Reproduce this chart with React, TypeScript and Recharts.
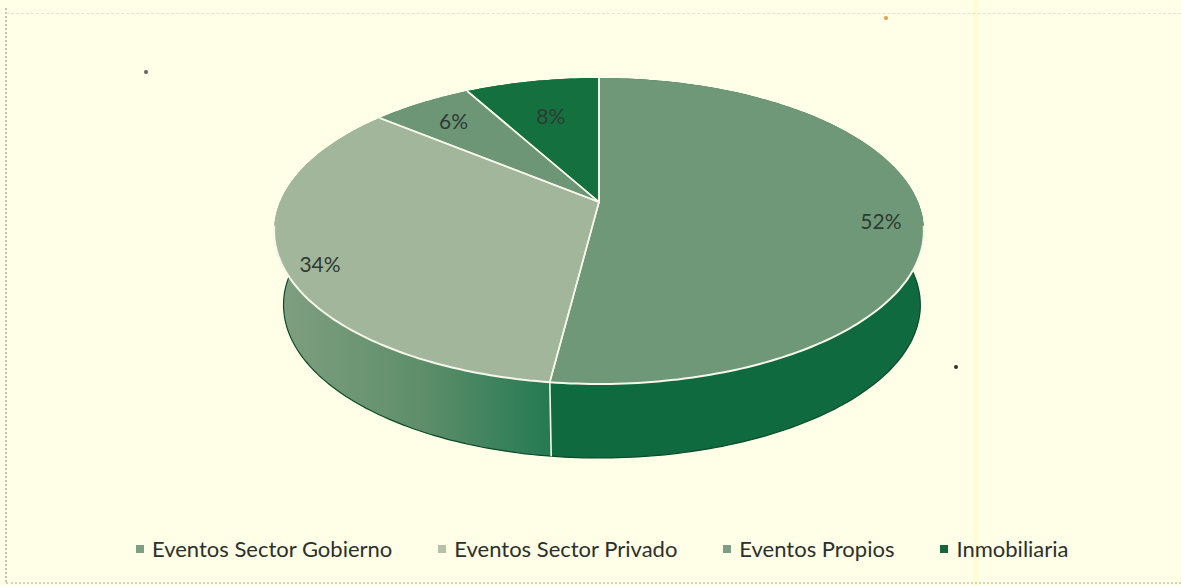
import React from "react";
import { PieChart, Pie, Legend } from "recharts";

const categories = ["Eventos Sector Gobierno", "Eventos Sector Privado", "Eventos Propios", "Inmobiliaria"];
const shares = [52, 34, 6, 8];
const topColors = ["#6f9878", "#a2b69b", "#6c9676", "#14713f"];
const wallColors = ["#0f6a40", "url(#wallGrad)", "#5a8a68", "#0f6a40"];
const legendColors = ["#7c9f84", "#b3c2a8", "#7f9c84", "#14643c"];

const topData = categories.map((name, i) => ({ name, value: shares[i], fill: topColors[i] }));
const wallData = categories.map((name, i) => ({ name, value: shares[i], fill: wallColors[i] }));

// the reference is a tilted 3D pie: the hub sits above the middle of the ellipse
const TILT = -0.1895;
const SQUASH = 0.4624;
const WALL_LEFT = 0.971;
const WALL_RIGHT = 0.989;
const WALL_DROP = 74;
const RAD = Math.PI / 180;

function project(cx: number, cy: number, r: number, deg: number) {
  const x = Math.cos(deg * RAD);
  const y = -Math.sin(deg * RAD);
  const w = 1 + TILT * y;
  return [cx + (r * x) / w, cy + (r * SQUASH * y) / w];
}

function lowerPoint(cx: number, p: number[]) {
  return [cx + (p[0] - cx) * (p[0] < cx ? WALL_LEFT : WALL_RIGHT), p[1] + WALL_DROP];
}

function arcPoints(cx: number, cy: number, r: number, from: number, to: number) {
  const pts: number[][] = [];
  const steps = Math.max(2, Math.ceil(Math.abs(to - from)));
  for (let i = 0; i <= steps; i++) {
    pts.push(project(cx, cy, r, from + ((to - from) * i) / steps));
  }
  return pts;
}

const toPath = (pts: number[][]) =>
  pts.map((p, i) => `${i === 0 ? "M" : "L"}${p[0].toFixed(1)},${p[1].toFixed(1)}`).join(" ");

function TopShape(props: any) {
  const { cx, cy, outerRadius, startAngle, endAngle, fill } = props;
  const d = `M${cx},${cy} ` + toPath(arcPoints(cx, cy, outerRadius, startAngle, endAngle)).replace("M", "L") + " Z";
  return <path d={d} fill={fill} stroke="none" />;
}

function WallShape(props: any) {
  const { cx, cy, outerRadius, startAngle, endAngle, fill } = props;
  const upper = arcPoints(cx, cy, outerRadius, startAngle, endAngle);
  const lower = upper.map((p) => lowerPoint(cx, p));
  const band = toPath([...upper, ...[...lower].reverse()]) + " Z";
  return (
    <g>
      <path d={band} fill={fill} stroke="none" />
      <path d={toPath(lower)} fill="none" stroke="#0a4a2c" strokeWidth={1.2} />
    </g>
  );
}

// white spokes, the white front rim and the seam down the wall
function EdgeShape(props: any) {
  const { cx, cy, outerRadius, startAngle, endAngle } = props;
  const a = project(cx, cy, outerRadius, startAngle);
  const b = project(cx, cy, outerRadius, endAngle);
  const rimFrom = Math.min(startAngle, -9);
  const rimTo = Math.max(endAngle, -171);
  const seam = Math.sin(startAngle * RAD) < -0.3;
  return (
    <g fill="none" stroke="#f6f7ea" strokeWidth={1.6}>
      <path d={`M${a[0]},${a[1]} L${cx},${cy} L${b[0]},${b[1]}`} />
      {rimFrom > rimTo && <path d={toPath(arcPoints(cx, cy, outerRadius, rimFrom, rimTo))} strokeWidth={2} />}
      {seam && <path d={toPath([a, lowerPoint(cx, a)])} />}
    </g>
  );
}

function renderShare(props: any) {
  const { cx, cy, outerRadius, midAngle, value } = props;
  const big = value >= 10;
  const radial = big ? 0.875 : value < 7 ? 0.82 : 0.72;
  const p = project(cx, cy, outerRadius * radial, midAngle);
  return (
    <text x={p[0]} y={p[1] + (big ? 10 : 0)} textAnchor="middle" dominantBaseline="central" fontFamily="Lato" fontSize={21} fill="#2f3a33">
      {value}%
    </text>
  );
}

function renderLegend() {
  return (
    <div style={{ display: "flex", alignItems: "center", fontFamily: "Lato", fontSize: 22, color: "#2b302c", whiteSpace: "nowrap" }}>
      {categories.map((name, i) => (
        <div key={name} style={{ display: "flex", alignItems: "center", marginRight: 46 }}>
          <span style={{ width: 8, height: 8, background: legendColors[i], marginRight: 8 }} />
          {name}
        </div>
      ))}
    </div>
  );
}

const speck = (left: number, top: number, size: number, background: string) => (
  <div style={{ position: "absolute", left, top, width: size, height: size, borderRadius: "50%", background }} />
);

export default function App() {
  return (
    <div style={{ position: "absolute", left: 0, top: 0, width: 1181, height: 586, background: "#fffee6", overflow: "hidden" }}>
      <div style={{ position: "absolute", left: 974, top: 0, width: 5, height: 586, background: "#fffcd6" }} />
      <div style={{ position: "absolute", left: 5, top: 8, width: 0, height: 574, borderLeft: "2px dotted #c4c3b0" }} />
      <div style={{ position: "absolute", left: 6, top: 13, width: 1175, height: 0, borderTop: "1px dashed #e4e3cd" }} />
      <div style={{ position: "absolute", left: 6, top: 582, width: 1175, height: 0, borderTop: "2px dotted #d4d3bf" }} />
      {speck(144, 70, 4, "#5d6a60")}
      {speck(954, 365, 4, "#2c332c")}
      {speck(884, 16, 4, "#d8a24c")}
      <PieChart width={1181} height={586} margin={{ top: 0, right: 0, bottom: 0, left: 0 }} style={{ position: "absolute", left: 0, top: 0 }}>
        <defs>
          <linearGradient id="wallGrad" gradientUnits="userSpaceOnUse" x1={280} y1={0} x2={551} y2={0}>
            <stop offset="0%" stopColor="#7f9f80" />
            <stop offset="55%" stopColor="#5c8d69" />
            <stop offset="100%" stopColor="#237a52" />
          </linearGradient>
        </defs>
        <Pie data={wallData} dataKey="value" nameKey="name" cx={599} cy={202} outerRadius={319} startAngle={90} endAngle={-270} legendType="none" shape={WallShape} stroke="none" isAnimationActive={false} />
        <Pie data={topData} dataKey="value" nameKey="name" cx={599} cy={202} outerRadius={319} startAngle={90} endAngle={-270} shape={TopShape} stroke="none" isAnimationActive={false} />
        <Pie data={topData} dataKey="value" nameKey="name" cx={599} cy={202} outerRadius={319} startAngle={90} endAngle={-270} legendType="none" shape={EdgeShape} stroke="none" label={renderShare} labelLine={false} isAnimationActive={false} />
        <Legend content={renderLegend} wrapperStyle={{ left: 136, top: 535, width: 1000, height: 30 }} />
      </PieChart>
    </div>
  );
}
